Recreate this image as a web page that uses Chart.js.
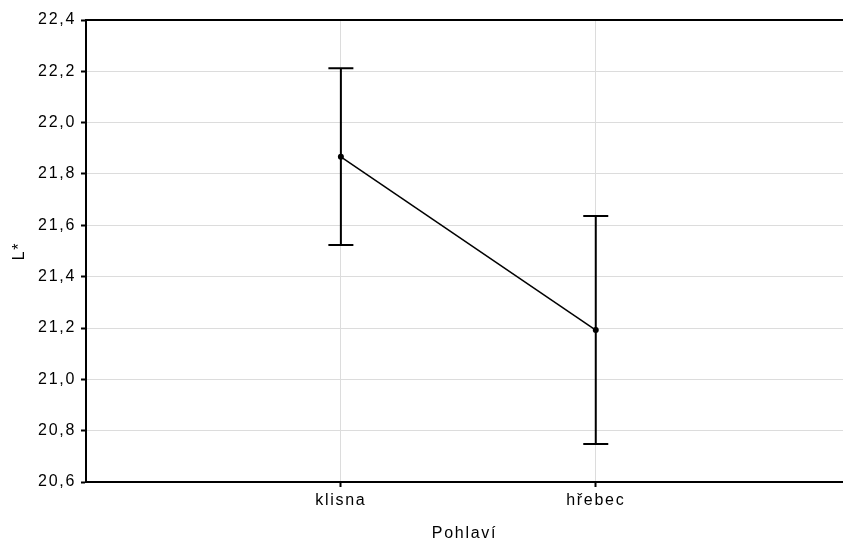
<!DOCTYPE html>
<html>
<head>
<meta charset="utf-8">
<script src="https://cdn.jsdelivr.net/npm/chart.js@4/dist/chart.umd.min.js"></script>
<style>
    body { margin: 0; background: #fff; }
    #wrap { width: 843px; height: 538px; position: relative; }
</style>
</head>
<body>
<div id="wrap"><canvas id="meanChart"></canvas></div>
<script>
// category labels and their slots on the x axis
const categories = ['klisna', 'hřebec'];
const positions = [1, 2];

// means with the ends of the error bars (L*)
const means = [21.867, 21.192];
const lower = [21.523, 20.748];
const upper = [22.212, 21.636];

const yTicks = [20.6, 20.8, 21.0, 21.2, 21.4, 21.6, 21.8, 22.0, 22.2, 22.4];

const points = positions.map((x, i) => ({ x: x, y: means[i] }));

const tickFont = { family: 'Liberation Sans, Arial, sans-serif', size: 16 };

// error bars, drawn through the chart scales
const errorBars = {
    id: 'errorBars',
    afterDatasetsDraw(chart) {
        const ctx = chart.ctx;
        const xs = chart.scales.x;
        const ys = chart.scales.y;
        ctx.save();
        ctx.strokeStyle = '#000';
        ctx.lineWidth = 2;
        positions.forEach((p, i) => {
            const x = xs.getPixelForValue(p);
            const yTop = ys.getPixelForValue(upper[i]);
            const yBot = ys.getPixelForValue(lower[i]);
            ctx.beginPath();
            ctx.moveTo(x, yTop);
            ctx.lineTo(x, yBot);
            ctx.moveTo(x - 12.5, yTop);
            ctx.lineTo(x + 12.5, yTop);
            ctx.moveTo(x - 12.5, yBot);
            ctx.lineTo(x + 12.5, yBot);
            ctx.stroke();
        });
        ctx.restore();
    }
};

// top frame line and letter spacing for the text
const frame = {
    id: 'frame',
    beforeDraw(chart) {
        chart.ctx.letterSpacing = '1.7px';
    },
    afterDraw(chart) {
        const a = chart.chartArea;
        const ctx = chart.ctx;
        ctx.save();
        ctx.strokeStyle = '#000';
        ctx.lineWidth = 2;
        ctx.beginPath();
        ctx.moveTo(a.left - 1, a.top);
        ctx.lineTo(a.right, a.top);
        ctx.stroke();
        ctx.restore();
    }
};

const ctx = document.getElementById('meanChart').getContext('2d');
new Chart(ctx, {
    type: 'line',
    data: {
        datasets: [{
            data: points,
            borderColor: '#000',
            backgroundColor: '#000',
            borderWidth: 1.5,
            pointRadius: 3,
            pointBorderWidth: 0,
            tension: 0
        }]
    },
    plugins: [errorBars, frame],
    options: {
        animation: false,
        responsive: true,
        maintainAspectRatio: false,
        layout: { autoPadding: false, padding: { left: 0, right: 0, top: 20, bottom: 0 } },
        plugins: {
            legend: { display: false },
            tooltip: { enabled: false }
        },
        scales: {
            x: {
                type: 'linear',
                min: 0,
                max: 2.97,
                afterBuildTicks(scale) {
                    scale.ticks = positions.map(v => ({ value: v }));
                },
                afterFit(scale) {
                    scale.height = 56;
                },
                ticks: {
                    color: '#000',
                    font: tickFont,
                    padding: 4,
                    maxRotation: 0,
                    autoSkip: false,
                    callback: (v) => categories[positions.indexOf(v)] || ''
                },
                grid: {
                    color: '#dcdcdc',
                    lineWidth: 1,
                    tickLength: 5,
                    tickColor: '#000',
                    tickWidth: 2
                },
                border: { color: '#000', width: 2 },
                title: {
                    display: true,
                    text: 'Pohlaví',
                    color: '#000',
                    font: { family: 'Liberation Sans, Arial, sans-serif', size: 16 },
                    padding: { top: 0, bottom: -5 }
                }
            },
            y: {
                min: 20.6,
                max: 22.4,
                afterBuildTicks(scale) {
                    scale.ticks = yTicks.map(v => ({ value: v }));
                },
                afterFit(scale) {
                    scale.width = 86;
                },
                ticks: {
                    color: '#000',
                    font: tickFont,
                    padding: 5,
                    callback: (v) => v.toFixed(1).replace('.', ',')
                },
                grid: {
                    color: '#dcdcdc',
                    lineWidth: 1,
                    tickLength: 5,
                    tickColor: '#000',
                    tickWidth: 2
                },
                border: { color: '#000', width: 2 },
                title: {
                    display: true,
                    text: 'L*',
                    color: '#000',
                    font: { family: 'Liberation Sans, Arial, sans-serif', size: 16 },
                    padding: { top: 10, bottom: 0 }
                }
            }
        }
    }
});
</script>
</body>
</html>
